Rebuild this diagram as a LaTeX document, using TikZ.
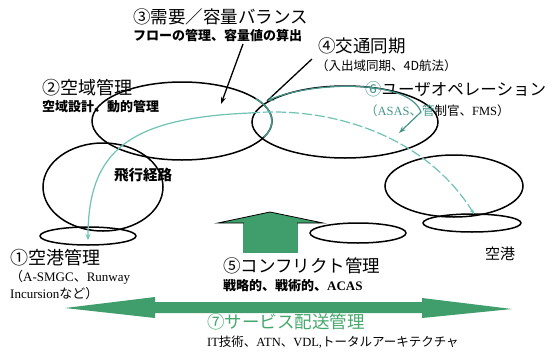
\documentclass[tikz,border=0pt]{standalone}
\usepackage{fontspec}
\setmainfont{Liberation Serif}
\newfontfamily\jp{Noto Sans CJK JP}
\usetikzlibrary{shapes.geometric,arrows.meta}
\definecolor{arrowgreen}{RGB}{64,158,108}
\definecolor{labgreen}{RGB}{70,168,108}
\definecolor{tealc}{RGB}{70,150,140}
\definecolor{flightc}{RGB}{110,195,180}
\tikzset{
  x=1pt, y=-1pt,
  oval/.style={ellipse, draw=black, line width=1.5pt, inner sep=0pt, outer sep=0pt},
  title/.style={anchor=west, inner sep=0pt, font=\jp\fontsize{17.5}{20}\selectfont},
  sub/.style={anchor=west, inner sep=0pt, font=\fontsize{12.5}{14}\selectfont},
  flight/.style={draw=flightc, line width=1.2pt},
  tealarrow/.style={draw=tealc, line width=1.2pt},
  blackarrow/.style={draw=black, line width=1.3pt}
}
\begin{document}
\begin{tikzpicture}
\useasboundingbox (0,0) rectangle (555,354);
\fill[white] (0,0) rectangle (555,354);

% ellipses
\node[oval, minimum width=180pt, minimum height=78pt] (air) at (182,121) {};
\node[oval, minimum width=186pt, minimum height=72pt] (sync) at (345,122) {};
\node[oval, minimum width=120pt, minimum height=88pt] (route) at (103,187) {};
\node[oval, minimum width=138pt, minimum height=62pt] (rbig) at (454,186) {};
\node[oval, minimum width=96pt, minimum height=18pt] (lport) at (88,236) {};
\node[oval, minimum width=98pt, minimum height=18pt] (rport) at (472,223) {};
\node[oval, minimum width=96pt, minimum height=20pt] (mid) at (358,233) {};

% teal right end of airspace ellipse
\draw[draw=tealc, line width=1.5pt] (255.7,98.6) arc[start angle=-35, end angle=25, x radius=90, y radius=39];

% flight path
\coordinate (fstart) at (88,240);
\coordinate (fmid) at (250,113);
\coordinate (fend) at (474,214);
\draw[flight, {Stealth[length=6pt,width=5pt]}-] (fstart) .. controls (88,150) and (130,118) .. (fmid);
\draw[flight, dash pattern=on 10pt off 3pt, -{Stealth[length=5pt,width=4pt]}] (fmid) .. controls (330,106) and (425,135) .. (fend);

% up arrow
\fill[arrowgreen] (243,253) rectangle (298,221);
\filldraw[fill=arrowgreen, draw=black, line width=0.8pt] (218,223) -- (270,212) -- (323,223) -- cycle;
\fill[arrowgreen] (244,221.5) rectangle (297,226);

% horizontal double arrow
\fill[arrowgreen] (65,308) -- (155,297) -- (155,302) -- (422,302) -- (422,298) -- (512,309) -- (422,318) -- (422,313) -- (155,313) -- (155,318) -- cycle;

% labels
\node[title] (t3) at (133,17) {③需要／容量バランス};
\node[sub, font=\jp\bfseries\fontsize{13}{15}\selectfont] (s3) at (133,36) {フローの管理、容量値の算出};
\node[title] (t4) at (318,46) {④交通同期};
\node[sub, font=\jp\fontsize{12.5}{14}\selectfont] (s4) at (316,66) {（入出域同期、4D航法）};
\node[title, font=\jp\fontsize{18}{20}\selectfont] (t2) at (42,88) {②空域管理};
\node[sub, font=\jp\bfseries\fontsize{13}{15}\selectfont] (s2) at (42,107) {空域設計、動的管理};
\node[font=\jp\bfseries\fontsize{14.5}{16}\selectfont, inner sep=0pt] (fr) at (143,175) {飛行経路};
\node[title, font=\jp\fontsize{16.5}{19}\selectfont] (t6) at (365,89) {\textcolor{tealc}{⑥}ユーザオペレーション};
\node[sub] (s6) at (365,111) {\color{tealc}{\jp （}ASAS{\jp 、管}\color{black}{\jp 制官、}FMS{\jp ）}};
\node[title, font=\jp\fontsize{18}{20}\selectfont] (t1) at (10,258) {①空港管理};
\node[sub, font=\fontsize{13}{15}\selectfont] (s1a) at (10,277) {{\jp （}A-SMGC{\jp 、}Runway};
\node[sub, font=\fontsize{13}{15}\selectfont] (s1b) at (10,294) {Incursion{\jp など）}};
\node[title] (t5) at (223,266) {⑤コンフリクト管理};
\node[sub, font=\bfseries\fontsize{13}{15}\selectfont] (s5) at (223,286) {{\jp 戦略的、戦術的、}ACAS};
\node[title, text=labgreen] (t7) at (207,322) {⑦サービス配送管理};
\node[sub] (s7) at (207,342) {IT{\jp 技術、}ATN{\jp 、}VDL,{\jp トータルアーキテクチャ}};
\node[font=\jp\fontsize{15}{17}\selectfont, inner sep=0pt] (port) at (500,254) {空港};

% connectors
\coordinate (p3) at (243,44);
\coordinate (q3) at (221,104);
\draw[blackarrow, -{Stealth[length=7pt,width=5pt]}] (p3) -- (q3);
\coordinate (p4) at (312,59);
\coordinate (x12) at (267,101);
\draw[blackarrow] (p4) -- (x12);
\coordinate (q6) at (399,133);
\draw[tealarrow, {Stealth[length=7pt,width=5pt]}-{Stealth[length=7pt,width=5pt]}] (x12) .. controls (310,82) and (408,78) .. (421,112) -- (q6);
\end{tikzpicture}
\end{document}
